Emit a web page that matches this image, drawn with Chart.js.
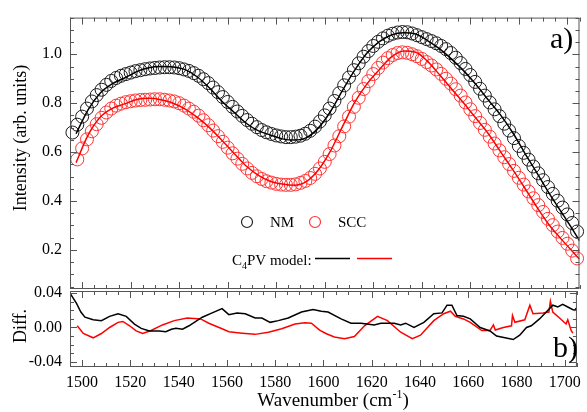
<!DOCTYPE html>
<html>
<head>
<meta charset="utf-8">
<script src="https://cdn.jsdelivr.net/npm/chart.js@4"></script>
<style>
  body { margin: 0; background: #fff; }
  #wrap { position: relative; width: 587px; height: 412px; }
  canvas { position: absolute; left: 0; top: 0; }
</style>
</head>
<body>
<div id="wrap">
  <canvas id="top" width="587" height="412"></canvas>
  <canvas id="bottom" width="587" height="412"></canvas>
</div>
<script>
// measured spectra (circles), every 2 cm-1
const wavenumbers = [
  1496,1498,1500,1502,1504,1506,1508,1510,1512,1514,
  1516,1518,1520,1522,1524,1526,1528,1530,1532,1534,
  1536,1538,1540,1542,1544,1546,1548,1550,1552,1554,
  1556,1558,1560,1562,1564,1566,1568,1570,1572,1574,
  1576,1578,1580,1582,1584,1586,1588,1590,1592,1594,
  1596,1598,1600,1602,1604,1606,1608,1610,1612,1614,
  1616,1618,1620,1622,1624,1626,1628,1630,1632,1634,
  1636,1638,1640,1642,1644,1646,1648,1650,1652,1654,
  1656,1658,1660,1662,1664,1666,1668,1670,1672,1674,
  1676,1678,1680,1682,1684,1686,1688,1690,1692,1694,
  1696,1698,1700,1702,1704
];
const nmData = [
  0.680,0.712,0.745,0.778,0.807,0.833,0.855,0.875,0.891,0.903,
  0.912,0.919,0.925,0.931,0.935,0.939,0.942,0.944,0.946,0.947,
  0.947,0.946,0.943,0.938,0.932,0.923,0.912,0.898,0.882,0.864,
  0.845,0.825,0.805,0.785,0.766,0.748,0.731,0.716,0.702,0.690,
  0.681,0.674,0.668,0.664,0.661,0.661,0.663,0.667,0.675,0.687,
  0.704,0.725,0.750,0.778,0.809,0.841,0.873,0.905,0.935,0.963,
  0.990,1.013,1.034,1.051,1.065,1.076,1.084,1.089,1.091,1.090,
  1.085,1.078,1.070,1.062,1.054,1.045,1.034,1.021,1.005,0.986,
  0.964,0.940,0.915,0.887,0.859,0.831,0.803,0.775,0.747,0.716,
  0.688,0.657,0.625,0.597,0.569,0.541,0.513,0.485,0.457,0.429,
  0.401,0.373,0.345,0.310,0.275
];
const sccData = [
  null,0.570,0.615,0.652,0.685,0.714,0.740,0.762,0.778,0.790,
  0.798,0.804,0.808,0.811,0.813,0.814,0.815,0.816,0.816,0.814,
  0.811,0.807,0.800,0.790,0.778,0.765,0.749,0.730,0.710,0.688,
  0.665,0.642,0.618,0.595,0.573,0.552,0.533,0.515,0.501,0.490,
  0.481,0.475,0.470,0.467,0.466,0.466,0.468,0.474,0.482,0.494,
  0.511,0.533,0.560,0.592,0.627,0.665,0.705,0.745,0.785,0.822,
  0.858,0.890,0.919,0.944,0.966,0.984,0.997,1.005,1.008,1.006,
  1.000,0.992,0.981,0.968,0.954,0.938,0.920,0.900,0.880,0.857,
  0.831,0.803,0.775,0.747,0.719,0.691,0.663,0.635,0.607,0.579,
  0.551,0.523,0.495,0.467,0.439,0.411,0.383,0.355,0.327,0.301,
  0.275,0.249,0.225,0.197,0.165
];

// C4PV model curves
const modelX = [
  1497.5,1502.5,1507.5,1512.5,1517.5,1522.5,1527.5,1532.5,1537.5,1542.5,
  1547.5,1552.5,1557.5,1562.5,1567.5,1572.5,1577.5,1582.5,1587.5,1592.5,
  1597.5,1602.5,1607.5,1612.5,1617.5,1622.5,1627.5,1632.5,1637.5,1642.5,
  1647.5,1652.5,1657.5,1662.5,1667.5,1672.5,1677.5,1682.5,1687.5,1692.5,
  1697.5,1702.5,1705
];
const nmModel = [
  0.675,0.774,0.842,0.880,0.903,0.929,0.945,0.950,0.948,0.937,
  0.907,0.862,0.809,0.764,0.719,0.688,0.670,0.654,0.649,0.659,
  0.700,0.768,0.855,0.937,1.006,1.052,1.079,1.088,1.083,1.055,
  1.021,0.978,0.930,0.874,0.812,0.751,0.679,0.595,0.514,0.431,
  0.355,0.278,0.237
];
const sccModel = [
  0.557,0.670,0.743,0.779,0.797,0.815,0.820,0.814,0.800,0.776,
  0.742,0.700,0.649,0.596,0.544,0.506,0.481,0.469,0.464,0.480,
  0.529,0.607,0.708,0.806,0.880,0.937,0.989,1.013,1.008,0.970,
  0.914,0.856,0.798,0.736,0.674,0.601,0.528,0.452,0.374,0.302,
  0.244,0.189,0.162
];

// residuals (data - model)
const nmDiffX = [
  1495,1497.7,1499.5,1501.2,1504.6,1508,1511.4,1514.9,1518.3,1521.7,
  1524.5,1527.9,1532,1534.7,1537,1538.9,1541.6,1544.3,1549.8,1553.9,
  1558,1560.8,1564.2,1567.6,1571.7,1574.5,1577.9,1581.3,1585.4,1590.9,
  1595.7,1599.1,1601.9,1607.3,1611.4,1615.6,1621,1623.8,1629.3,1632,
  1634,1637.5,1641.6,1645.7,1649.1,1651.2,1653.2,1655.3,1658,1660.8,
  1664.9,1669,1671.7,1675.2,1678.6,1681.3,1684.1,1686.1,1689.5,1692.3,
  1695,1697.1,1699.1,1701.8,1703.9,1705
];
const nmDiffY = [
  0.040,0.028,0.018,0.012,0.009,0.008,0.013,0.016,0.013,0.004,
  -0.001,-0.004,-0.004,-0.005,-0.002,-0.001,-0.002,0.002,0.012,0.017,
  0.022,0.015,0.017,0.016,0.011,0.011,0.006,0.008,0.011,0.018,
  0.021,0.019,0.018,0.010,0.005,0.005,0.003,0.005,0.005,0.003,
  0.005,0.000,0.006,0.016,0.017,0.026,0.026,0.014,0.013,0.010,
  0.000,-0.004,-0.010,-0.012,-0.014,-0.009,0.000,0.002,0.010,0.018,
  0.026,0.024,0.027,0.023,0.020,0.023
];
const sccDiffX = [
  1498,1500.5,1504.6,1508,1511.4,1514.9,1516.9,1519.7,1522.4,1525.1,
  1528.6,1533.3,1538.2,1543.6,1549.1,1552.5,1558,1560.8,1566.3,1571.7,
  1577.2,1582.7,1588.2,1592.3,1595,1598.4,1601,1604.5,1608.7,1612.8,
  1617,1622.4,1626.5,1632,1636.8,1640.2,1645.7,1649.8,1652.6,1654.6,
  1658,1660.8,1665.6,1669,1670.4,1671.2,1674.5,1677.9,1678.3,1679.3,
  1683.4,1685.5,1686.8,1690.9,1693.4,1694,1695,1697.8,1700.5,1701.2,
  1702.6,1703.3
];
const sccDiffY = [
  0.002,-0.007,-0.012,-0.007,0.000,0.006,0.007,0.002,-0.004,-0.007,
  -0.0035,0.003,0.008,0.011,0.010,0.005,-0.0015,-0.005,-0.0066,-0.008,
  -0.0055,-0.0015,0.004,0.0055,0.005,-0.003,-0.007,-0.011,-0.013,-0.0105,
  0.002,0.013,0.008,-0.0055,-0.013,-0.009,0.008,0.016,0.019,0.013,
  0.010,0.006,-0.0035,-0.0035,0.003,-0.003,0.000,0.002,0.014,0.006,
  0.009,0.026,0.016,0.017,0.018,0.0305,0.018,0.011,0.004,0.009,
  -0.0035,-0.0066
];

const xTicks = [1500,1520,1540,1560,1580,1600,1620,1640,1660,1680,1700];
const yTicksTop = [0.2,0.4,0.6,0.8,1.0];
const yTicksDiff = [-0.04,0.00,0.04];

const SERIF = '"Liberation Serif", "DejaVu Serif", serif';
Chart.defaults.font.family = SERIF;
Chart.defaults.font.size = 16;
Chart.defaults.color = '#000';

const pts = (xs, ys) => xs.map((x, i) => ({ x: x, y: ys[i] }));
const near = (arr, v) => arr.some(t => Math.abs(t - v) < 1e-6);

function hline(ctx, x1, y1, x2, y2) {
  ctx.beginPath();
  ctx.moveTo(x1, y1);
  ctx.lineTo(x2, y2);
  ctx.stroke();
}

// frame with inward ticks on all four sides
function framePlugin(yMinors, yMajors) {
  return {
    id: 'frame',
    afterDatasetsDraw(chart) {
      const { ctx, chartArea: a, scales } = chart;
      ctx.save();
      ctx.strokeStyle = '#555';
      ctx.lineWidth = 1;
      ctx.strokeRect(a.left + 0.5, a.top + 0.5, a.right - a.left - 1, a.bottom - a.top - 1);
      for (let v = 1495; v <= 1705; v += 5) {
        const len = xTicks.includes(v) ? 7 : 4;
        const px = Math.round(scales.x.getPixelForValue(v)) + 0.5;
        hline(ctx, px, a.bottom, px, a.bottom - len);
        hline(ctx, px, a.top, px, a.top + len);
      }
      yMinors.forEach(v => {
        const len = near(yMajors, v) ? 7 : 4;
        const py = Math.round(scales.y.getPixelForValue(v)) + 0.5;
        hline(ctx, a.left, py, a.left + len, py);
        hline(ctx, a.right, py, a.right - len, py);
      });
      ctx.restore();
    }
  };
}

const topMinors = [];
for (let i = 1; i <= 23; i++) topMinors.push(i * 0.05);
const diffMinors = [];
for (let i = -4; i <= 4; i++) diffMinors.push(i * 0.01);

function vText(ctx, text, x, y, font) {
  ctx.save();
  ctx.translate(x, y);
  ctx.rotate(-Math.PI / 2);
  ctx.font = font;
  ctx.textAlign = 'center';
  ctx.textBaseline = 'middle';
  ctx.fillText(text, 0, 0);
  ctx.restore();
}

const topText = {
  id: 'topText',
  afterDraw(chart) {
    const ctx = chart.ctx;
    ctx.save();
    ctx.fillStyle = '#000';
    vText(ctx, 'Intensity (arb. units)', 21, 138, '18px ' + SERIF);

    // legend
    ctx.lineWidth = 1.2;
    ctx.strokeStyle = '#222';
    ctx.beginPath(); ctx.arc(247, 222, 5.5, 0, Math.PI * 2); ctx.stroke();
    ctx.strokeStyle = '#ff3333';
    ctx.beginPath(); ctx.arc(315, 222, 5.5, 0, Math.PI * 2); ctx.stroke();
    ctx.font = '15px ' + SERIF;
    ctx.textBaseline = 'alphabetic';
    ctx.fillText('NM', 270, 227);
    ctx.fillText('SCC', 338, 227);

    let x = 232;
    ctx.fillText('C', x, 265); x += ctx.measureText('C').width;
    ctx.font = '10px ' + SERIF;
    ctx.fillText('4', x, 269); x += ctx.measureText('4').width;
    ctx.font = '15px ' + SERIF;
    ctx.fillText('PV model:', x, 265);
    ctx.lineWidth = 1.5;
    ctx.strokeStyle = '#000';
    hline(ctx, 315, 258.5, 350, 258.5);
    ctx.strokeStyle = '#ff0000';
    hline(ctx, 357, 258.5, 392, 258.5);

    ctx.font = '30px ' + SERIF;
    ctx.fillText('a)', 550, 48);
    ctx.restore();
  }
};

const bottomText = {
  id: 'bottomText',
  afterDraw(chart) {
    const ctx = chart.ctx;
    ctx.save();
    ctx.fillStyle = '#000';
    vText(ctx, 'Diff.', 21, 326, '18px ' + SERIF);

    const big = '19px ' + SERIF, small = '12px ' + SERIF;
    ctx.font = big;
    const w1 = ctx.measureText('Wavenumber (cm').width;
    const w3 = ctx.measureText(')').width;
    ctx.font = small;
    const w2 = ctx.measureText('-1').width;
    let x = 333 - (w1 + w2 + w3) / 2;
    ctx.textBaseline = 'alphabetic';
    ctx.font = big;
    ctx.fillText('Wavenumber (cm', x, 406); x += w1;
    ctx.font = small;
    ctx.fillText('-1', x, 398); x += w2;
    ctx.font = big;
    ctx.fillText(')', x, 406);

    ctx.font = '30px ' + SERIF;
    ctx.fillText('b)', 553, 357);
    ctx.restore();
  }
};

const yWidth = s => { s.width = 70; };

new Chart(document.getElementById('top'), {
  type: 'scatter',
  data: {
    datasets: [
      {
        data: pts(modelX, nmModel), showLine: true, borderColor: '#000',
        borderWidth: 1.5, pointRadius: 0, cubicInterpolationMode: 'monotone'
      },
      {
        data: pts(modelX, sccModel), showLine: true, borderColor: '#ff0000',
        borderWidth: 1.5, pointRadius: 0, cubicInterpolationMode: 'monotone'
      },
      {
        data: pts(wavenumbers, nmData), pointStyle: 'circle', pointRadius: 6.5,
        pointBorderWidth: 1, pointBorderColor: '#1a1a1a', pointBackgroundColor: 'rgba(0,0,0,0)',
        clip: 8
      },
      {
        data: pts(wavenumbers, sccData), pointStyle: 'circle', pointRadius: 6.5,
        pointBorderWidth: 1, pointBorderColor: '#ff3333', pointBackgroundColor: 'rgba(0,0,0,0)',
        clip: 8
      }
    ]
  },
  options: {
    responsive: false,
    animation: false,
    devicePixelRatio: 1,
    layout: { padding: { left: 0, top: 14, right: 6, bottom: 123 } },
    plugins: { legend: { display: false }, tooltip: { enabled: false } },
    scales: {
      x: { type: 'linear', min: 1495, max: 1705, display: false },
      y: {
        min: 0.04, max: 1.15,
        afterFit: yWidth,
        afterBuildTicks: s => { s.ticks = yTicksTop.map(v => ({ value: v })); },
        grid: { display: false, drawTicks: false },
        border: { display: false },
        ticks: { padding: 8, callback: v => v.toFixed(1) }
      }
    }
  },
  plugins: [framePlugin(topMinors, yTicksTop), topText]
});

new Chart(document.getElementById('bottom'), {
  type: 'scatter',
  data: {
    datasets: [
      {
        data: pts(nmDiffX, nmDiffY), showLine: true, borderColor: '#000',
        borderWidth: 1.5, pointRadius: 0
      },
      {
        data: pts(sccDiffX, sccDiffY), showLine: true, borderColor: '#ff0000',
        borderWidth: 1.5, pointRadius: 0
      }
    ]
  },
  options: {
    responsive: false,
    animation: false,
    devicePixelRatio: 1,
    layout: { padding: { left: 0, top: 291, right: 6, bottom: 0 } },
    plugins: { legend: { display: false }, tooltip: { enabled: false } },
    scales: {
      x: {
        type: 'linear', min: 1495, max: 1705,
        afterFit: s => { s.height = 45; },
        afterBuildTicks: s => { s.ticks = xTicks.map(v => ({ value: v })); },
        grid: { display: false, drawTicks: false },
        border: { display: false },
        ticks: { padding: 6, maxRotation: 0, autoSkip: false, callback: v => String(v) }
      },
      y: {
        min: -0.046, max: 0.0425,
        afterFit: yWidth,
        afterBuildTicks: s => { s.ticks = yTicksDiff.map(v => ({ value: v })); },
        grid: { display: false, drawTicks: false },
        border: { display: false },
        ticks: { padding: 8, callback: v => v.toFixed(2) }
      }
    }
  },
  plugins: [framePlugin(diffMinors, yTicksDiff), bottomText]
});
</script>
</body>
</html>
